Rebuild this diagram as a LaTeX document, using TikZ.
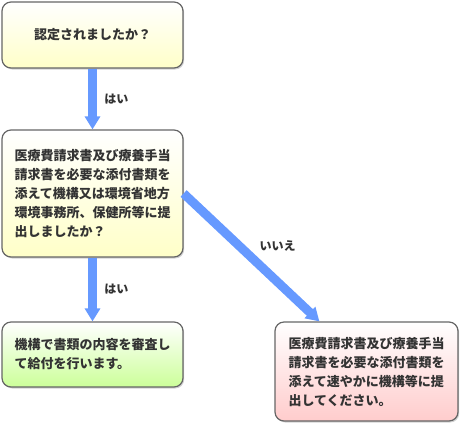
\documentclass[tikz,border=0pt]{standalone}
\usepackage{fontspec}
\usepackage{tikz}
\usepackage{xcolor}
\usetikzlibrary{arrows.meta,shadows}
\newfontfamily\jpfont{Noto Sans CJK JP}

\definecolor{flowblue}{HTML}{6699FF}
\definecolor{boxline}{HTML}{666666}
\definecolor{txtgray}{HTML}{333333}
\definecolor{qyellow}{HTML}{FFFFC8}
\definecolor{okgreen}{HTML}{CCFF99}
\definecolor{ngpink}{HTML}{FFCCCC}

\begin{document}
\begin{tikzpicture}[
          x=1pt, y=-1pt,
          box/.style={draw=boxline, line width=1.2pt, rounded corners=9pt,
                      minimum width=181pt, inner sep=0pt, align=left,
                      text=txtgray, font=\jpfont\bfseries\fontsize{13}{19}\selectfont,
                      drop shadow={shadow xshift=1.2pt, shadow yshift=-1.5pt, opacity=0.35}},
          lbl/.style={font=\jpfont\bfseries\fontsize{12}{14}\selectfont, text=txtgray},
          flow/.style={-{Triangle[width=15pt,length=13pt]}, line width=9pt, flowblue}
      ]
        \useasboundingbox (0,0) rectangle (460,424);
        % questions
        \node[box, minimum height=66pt, top color=white, bottom color=qyellow]
             (q1) at (92.5,35) {認定されましたか？};
        \node[box, minimum height=127pt, top color=white, bottom color=qyellow]
             (q2) at (92.5,193.5) {医療費請求書及び療養手当\\請求書を必要な添付書類を\\添えて機構又は環境省地方\\環境事務所、保健所等に提\\出しましたか？};
        % results
        \node[box, minimum height=65pt, top color=white, bottom color=okgreen]
             (ok) at (92.5,354.5) {機構で書類の内容を審査し\\て給付を行います。};
        \node[box, minimum width=183pt, minimum height=99pt, top color=white, bottom color=ngpink]
             (ng) at (366.5,371.5) {医療費請求書及び療養手当\\請求書を必要な添付書類を\\添えて速やかに機構等に提\\出してください。};
        % connectors
        \draw[flow] (q1.south) -- node[lbl, right, xshift=4pt] (yes1) {はい} (q2.north);
        \draw[flow] (q2.south) -- node[lbl, right, xshift=4pt] (yes2) {はい} (ok.north);
        \draw[flow] (q2.east) -- node[lbl, xshift=26pt, yshift=11pt] (no1) {いいえ} ([xshift=45pt]ng.north west);
      \end{tikzpicture}
\end{document}
